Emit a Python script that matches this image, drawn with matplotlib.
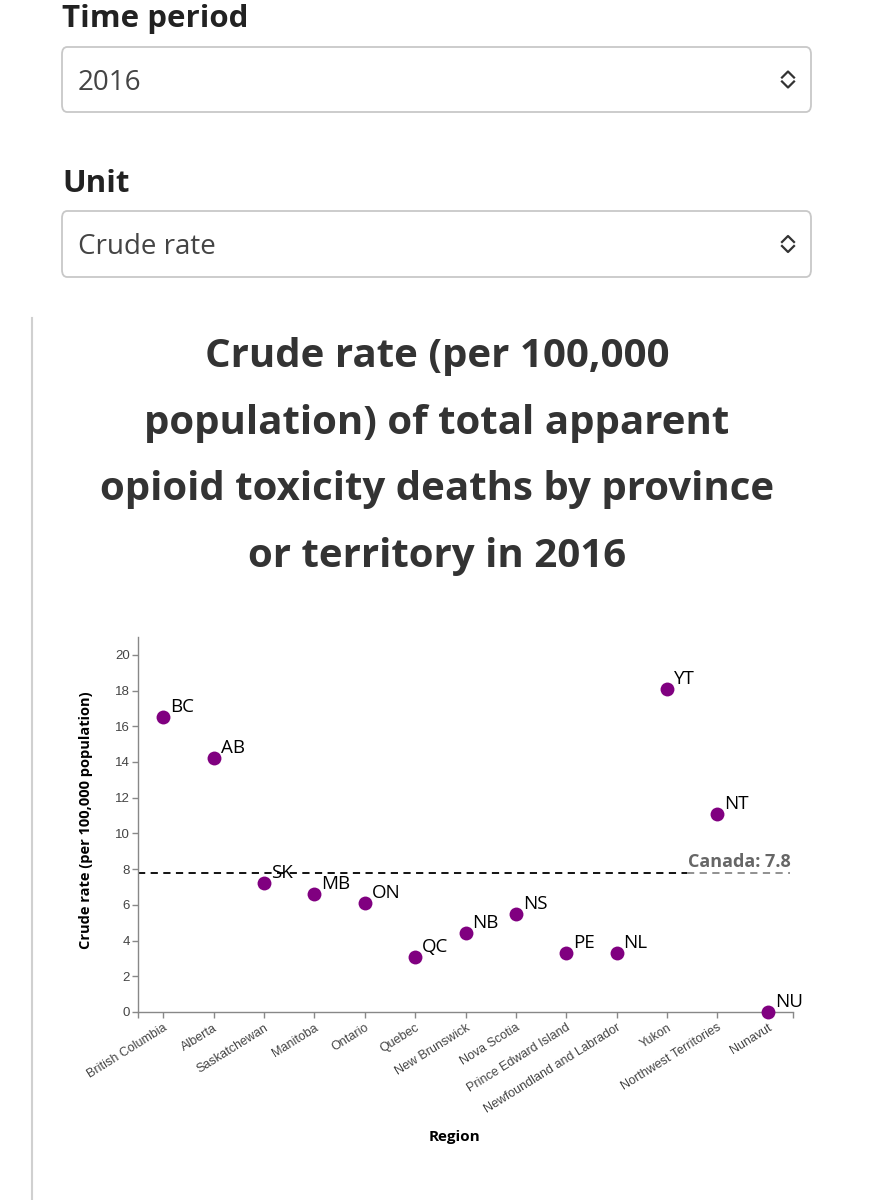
import matplotlib
matplotlib.use("Agg")
import matplotlib.pyplot as plt
from matplotlib.patches import FancyBboxPatch
from matplotlib.lines import Line2D

# ---------------- data ----------------
regions = ["British Columbia", "Alberta", "Saskatchewan", "Manitoba", "Ontario",
           "Quebec", "New Brunswick", "Nova Scotia", "Prince Edward Island",
           "Newfoundland and Labrador", "Yukon", "Northwest Territories", "Nunavut"]
codes = ["BC", "AB", "SK", "MB", "ON", "QC", "NB", "NS", "PE", "NL", "YT", "NT", "NU"]
rates = [16.5, 14.2, 7.2, 6.6, 6.1, 3.1, 4.4, 5.5, 3.3, 3.3, 18.1, 11.1, 0.0]
canada_rate = 7.8
y_ticks = [0, 2, 4, 6, 8, 10, 12, 14, 16, 18, 20]

title_lines = ["Crude rate (per 100,000", "population) of total apparent",
               "opioid toxicity deaths by province", "or territory in 2016"]

W, H = 873, 1200
fig = plt.figure(figsize=(W / 100, H / 100), dpi=100)
fig.patch.set_facecolor("white")

def fx(px):
    return px / W

def fy(py):
    return 1 - py / H

UI = "Open Sans"

# ---------------- form controls ----------------
fig.text(fx(62), fy(27), "Time period", fontsize=22.5, fontweight="bold",
         family=UI, color="#222222", va="baseline", ha="left")
fig.text(fx(62), fy(192), "Unit", fontsize=22.5, fontweight="bold",
         family=UI, color="#222222", va="baseline", ha="left")

def select_box(y0, y1, label, baseline):
    box = FancyBboxPatch((fx(62), fy(y1)), fx(811) - fx(62), fy(y0) - fy(y1),
                         boxstyle="round,pad=0,rounding_size=0.006",
                         transform=fig.transFigure, facecolor="white",
                         edgecolor="#c8c8c8", linewidth=1.3)
    fig.patches.append(box)
    yc = (y0 + y1) / 2
    fig.text(fx(78), fy(baseline), label, fontsize=20, family=UI, color="#444444",
             va="baseline", ha="left")
    cx = 788
    up = Line2D([fx(cx - 6), fx(cx), fx(cx + 6)], [fy(yc - 2), fy(yc - 8), fy(yc - 2)],
                transform=fig.transFigure, color="#333333", linewidth=1.6)
    dn = Line2D([fx(cx - 6), fx(cx), fx(cx + 6)], [fy(yc + 2), fy(yc + 8), fy(yc + 2)],
                transform=fig.transFigure, color="#333333", linewidth=1.6)
    fig.lines.extend([up, dn])

select_box(47, 112, "2016", 89.5)
select_box(211, 277, "Crude rate", 254)

# left gray rule
fig.lines.append(Line2D([fx(32), fx(32)], [fy(318), fy(1200)],
                        transform=fig.transFigure, color="#d0d0d0", linewidth=1.5))

# ---------------- title ----------------
for i, line in enumerate(title_lines):
    fig.text(fx(437), fy(367 + 66.5 * i), line, fontsize=29, fontweight="bold",
             family=UI, color="#333333", ha="center", va="baseline")

# ---------------- chart ----------------
ax = fig.add_axes([fx(138), fy(1012), fx(793) - fx(138), fy(637) - fy(1012)])
x = list(range(len(regions)))
ax.set_xlim(-0.5, len(regions) - 0.5)
ax.set_ylim(0, 21)

ax.scatter(x, rates, s=100, color="#800080", zorder=3, clip_on=False, linewidths=0)
for xi, yi, c in zip(x, rates, codes):
    ax.annotate(c, (xi, yi), xytext=(5, 3.6), textcoords="offset points",
                ha="left", va="baseline", fontsize=13.5, family=UI, color="black",
                zorder=4, annotation_clip=False)

# Canada reference line
split = 10.39
ax.plot([-0.5, split], [canada_rate, canada_rate], color="black",
        linestyle=(0, (4, 3)), linewidth=1.3, zorder=2, clip_on=False)
ax.plot([split, 12.45], [canada_rate, canada_rate], color="#888888",
        linestyle=(0, (4, 3)), linewidth=1.3, zorder=2, clip_on=False)
ax.annotate(f"Canada: {canada_rate}", (12.45, canada_rate), xytext=(0, 4.3),
            textcoords="offset points", ha="right", va="baseline", fontsize=13,
            fontweight="bold", family=UI, color="#666666")

for s in ["top", "right"]:
    ax.spines[s].set_visible(False)
for s in ["left", "bottom"]:
    ax.spines[s].set_color("#888888")
    ax.spines[s].set_linewidth(1.0)

ax.set_yticks(y_ticks)
ax.set_yticklabels([str(t) for t in y_ticks], family="Liberation Sans",
                   fontsize=9.5, color="#444444")
ax.set_xticks(x)
ax.set_xticklabels(regions, rotation=32, ha="right", va="top",
                   rotation_mode="anchor", family="Liberation Sans",
                   fontsize=9, color="#444444")
ax.set_xticks([-0.5, len(regions) - 0.5], minor=True)
ax.tick_params(axis="both", which="major", length=4, width=1.0, color="#888888",
               direction="out", pad=2)
ax.tick_params(axis="x", which="minor", length=4, width=1.0, color="#888888")
ax.tick_params(axis="x", which="major", pad=3)

ax.set_ylabel("Crude rate (per 100,000 population)", fontsize=10.5,
              fontweight="bold", family=UI, color="black")
ax.set_xlabel("Region", fontsize=11, fontweight="bold", family=UI,
              color="black")
ax.xaxis.set_label_coords((455 - 138) / (793 - 138), -(1137 - 1012) / (1012 - 637))
ax.yaxis.set_label_coords(-(138 - 86) / (793 - 138), (1012 - 820) / (1012 - 637))
ax.xaxis.label.set_va("center")
ax.yaxis.label.set_va("center")
ax.set_facecolor("white")

fig.savefig("out.png", dpi=100, facecolor="white")
